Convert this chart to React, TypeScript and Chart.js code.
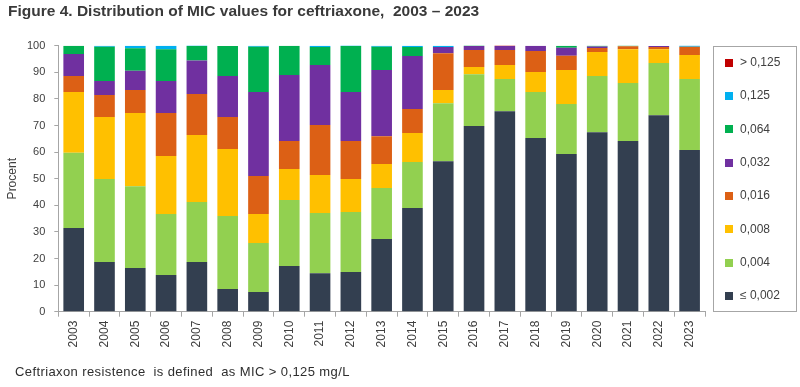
import React, { useEffect, useRef } from "react";
import { Chart, registerables } from "chart.js";

Chart.register(...registerables);

const years = ["2003", "2004", "2005", "2006", "2007", "2008", "2009", "2010", "2011", "2012", "2013", "2014", "2015", "2016", "2017", "2018", "2019", "2020", "2021", "2022", "2023"];

const micLe002 = [31.5, 18.7, 16.4, 13.8, 18.7, 8.5, 7.4, 17.2, 14.5, 14.9, 27.3, 39.0, 56.6, 69.8, 75.4, 65.3, 59.3, 67.5, 64.2, 73.9, 60.8];
const mic004 = [28.3, 31.2, 30.8, 22.9, 22.5, 27.5, 18.4, 24.8, 22.6, 22.6, 19.2, 17.3, 21.8, 19.5, 12.1, 17.3, 18.8, 21.1, 21.8, 19.6, 26.7];
const mic008 = [22.8, 23.3, 27.5, 21.8, 25.2, 25.2, 10.9, 11.6, 14.3, 12.4, 9.0, 10.9, 4.9, 2.7, 5.2, 7.5, 12.8, 9.0, 12.7, 5.2, 9.0];
const mic016 = [6.0, 8.3, 8.6, 16.2, 15.4, 12.0, 14.3, 10.6, 18.8, 14.3, 10.5, 9.0, 13.9, 6.4, 5.7, 7.9, 5.3, 1.5, 1.1, 0.8, 3.1];
const mic032 = [8.3, 5.2, 7.3, 12.0, 12.6, 15.4, 31.6, 24.8, 22.5, 18.4, 24.9, 19.9, 2.3, 1.5, 1.5, 2.0, 3.0, 0.6, 0, 0.4, 0];
const mic064 = [3.1, 12.9, 8.4, 12.0, 5.5, 11.3, 17.0, 11.0, 6.8, 17.3, 8.7, 3.4, 0, 0.4, 0, 0, 0.8, 0.4, 0.4, 0, 0];
const mic125 = [0, 0.4, 1.0, 1.3, 0.4, 0, 0.4, 0, 0.5, 0.4, 0.4, 0.5, 0.5, 0, 0, 0, 0, 0, 0, 0, 0.6];
const micGt125 = [0, 0, 0, 0, 0, 0, 0, 0, 0, 0, 0, 0, 0, 0, 0.4, 0, 0, 0, 0, 0, 0];

const seriesLabels = ["≤ 0,002", "0,004", "0,008", "0,016", "0,032", "0,064", "0,125", "> 0,125"];
const seriesValues = [micLe002, mic004, mic008, mic016, mic032, mic064, mic125, micGt125];
const seriesColors = ["#333F50", "#92D050", "#FFC000", "#DC6015", "#7030A0", "#00B050", "#00B0F0", "#C00000"];

const titleText = "Figure 4. Distribution of MIC values for ceftriaxone,  2003 – 2023";
const footnoteText = "Ceftriaxon resistence  is defined  as MIC > 0,125 mg/L";
const yTitle = "Procent";

const FONT = "'Liberation Sans', Arial, sans-serif";
const TEXT = "#404040";
const AXIS = "#A6A6A6";

export default function App() {
  const ref = useRef<HTMLCanvasElement>(null);

  useEffect(() => {
    const overlay = {
      id: "overlay",
      afterDraw(chart: any) {
        const ctx = chart.ctx;
        ctx.save();
        // title
        ctx.fillStyle = "#3A3A3A";
        ctx.font = `bold 15.5px ${FONT}`;
        ctx.textAlign = "left";
        ctx.textBaseline = "middle";
        ctx.fillText(titleText, 8, 12);
        // footnote
        ctx.fillStyle = "#2E2E2E";
        ctx.font = `13px ${FONT}`;
        ctx.letterSpacing = "0.4px";
        ctx.fillText(footnoteText, 15, 372.5);
        ctx.letterSpacing = "0px";
        // legend box
        ctx.strokeStyle = AXIS;
        ctx.lineWidth = 1;
        ctx.strokeRect(713.5, 46.5, 83, 265);
        const n = seriesLabels.length;
        for (let i = 0; i < n; i++) {
          const idx = n - 1 - i;
          const cy = 62.7 + i * 33.3;
          ctx.fillStyle = seriesColors[idx];
          ctx.fillRect(725, Math.round(cy - 4), 8, 8);
          ctx.fillStyle = TEXT;
          ctx.font = `12px ${FONT}`;
          ctx.fillText(seriesLabels[idx], 740, cy);
        }
        ctx.restore();
      },
    };

    const chart = new Chart(ref.current as HTMLCanvasElement, {
      type: "bar",
      data: {
        labels: years,
        datasets: seriesLabels.map((label, i) => ({
          label,
          data: seriesValues[i],
          backgroundColor: seriesColors[i],
          borderWidth: 0,
          categoryPercentage: 1,
          barPercentage: 0.67,
        })),
      },
      options: {
        responsive: false,
        animation: false,
        layout: { padding: { left: 0, top: 45.7, right: 95, bottom: 33.3 } },
        plugins: {
          legend: { display: false },
          tooltip: { enabled: false },
          title: { display: false },
        },
        scales: {
          x: {
            stacked: true,
            grid: { offset: true, drawOnChartArea: false, color: AXIS, tickLength: 5 },
            border: { color: AXIS },
            ticks: {
              minRotation: 90,
              maxRotation: 90,
              autoSkip: false,
              padding: 4,
              color: TEXT,
              font: { family: FONT, size: 12 },
            },
            afterFit: (s: any) => {
              s.height = 42;
            },
          },
          y: {
            stacked: true,
            min: 0,
            max: 100,
            ticks: { stepSize: 10, padding: 9, color: TEXT, font: { family: FONT, size: 11 } },
            grid: { drawOnChartArea: false, color: AXIS, tickLength: 4 },
            border: { color: AXIS },
            title: {
              display: true,
              text: yTitle,
              color: TEXT,
              font: { family: FONT, size: 12 },
              padding: { top: 5, bottom: 0 },
            },
            afterFit: (s: any) => {
              s.width = 58.3;
            },
          },
        },
      },
      plugins: [overlay],
    });
    return () => chart.destroy();
  }, []);

  return (
    <div style={{ position: "absolute", left: 0, top: 0, width: 800, height: 387, background: "#fff" }}>
      <canvas ref={ref} width={800} height={387} style={{ display: "block", width: 800, height: 387 }} />
    </div>
  );
}
